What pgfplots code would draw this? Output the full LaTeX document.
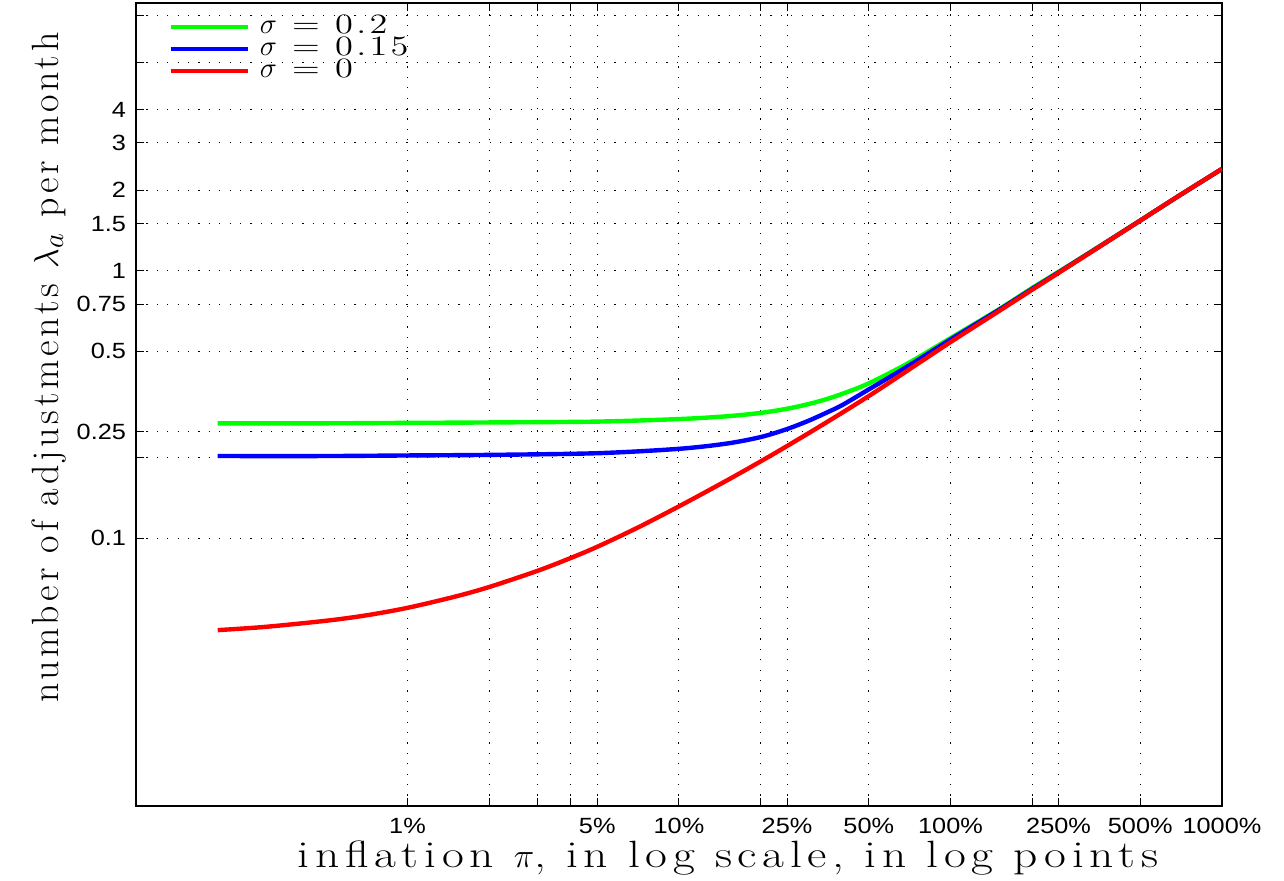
\documentclass[border=0pt]{standalone}
\usepackage{fontspec}
\usepackage{pgfplots}
\pgfplotsset{compat=1.18}
\newfontfamily\ticksans[FakeStretch=1.15]{Liberation Sans}
\newfontfamily\xlabfont[FakeStretch=1.25,LetterSpace=15]{lmroman17-regular.otf}
\newfontfamily\ylabfont[LetterSpace=10]{lmroman17-regular.otf}
\newfontfamily\legfont[FakeStretch=1.3,LetterSpace=12]{lmroman12-regular.otf}
\definecolor{cgreen}{rgb}{0,1,0}
\definecolor{cblue}{rgb}{0,0,1}
\definecolor{cred}{rgb}{1,0,0}
\begin{document}
\begin{tikzpicture}
\useasboundingbox (-68pt,-37.5pt) rectangle (574pt,403pt);
\begin{axis}[
  at={(0pt,0pt)}, anchor=south west,
  scale only axis, width=543pt, height=401.5pt,
  xmode=log, ymode=log,
  xmin=0.1, xmax=1000, ymin=0.01, ymax=10,
  xtick={1,2,3,4,5,10,20,25,50,100,200,250,500,1000},
  xticklabels={1\%,,,,5\%,10\%,,25\%,50\%,100\%,,250\%,500\%,1000\%},
  ytick={0.1,0.2,0.25,0.5,0.75,1,1.5,2,3,4,6,9},
  yticklabels={0.1,,0.25,0.5,0.75,1,1.5,2,3,4,,},
  xminorticks=false, yminorticks=false,
  tick label style={font=\ticksans\fontsize{11}{13}\selectfont},
  xticklabel style={yshift=-2.5pt},
  yticklabel style={xshift=-1.5pt},
  major tick length=4pt,
  tick style={black, line width=0.5pt},
  grid=major,
  major grid style={black, line width=0.5pt, dash pattern=on 0.6pt off 4.6pt},
  axis line style={line width=1pt},
  xlabel={inflation $\pi$, in log scale, in log points},
  ylabel={number of adjustments $\lambda_a$ per month},
  xlabel style={at={(axis description cs:0.545,-0.0772)}, anchor=base,
    font=\xlabfont\fontsize{19}{22}\selectfont},
  ylabel style={at={(axis description cs:-0.0718,0.546)}, anchor=base,
    font=\ylabfont\fontsize{19}{22}\selectfont},
  legend style={at={(axis description cs:0.0295,0.984)}, anchor=north west,
    draw=none, fill=none, inner sep=0pt, column sep=4pt,
    font=\legfont\fontsize{14}{14}\selectfont,
    nodes={inner sep=1pt, text height=7.5pt, text depth=1.5pt}},
  legend cell align=left,
  legend image code/.code={\draw[#1] (0pt,0pt) -- (38.5pt,0pt);},
]
\addplot[cgreen, line width=2.2pt, smooth, tension=0.5] coordinates {
(0.2,0.269) (0.5,0.269) (1,0.270) (2,0.271) (5,0.273) (10,0.279) (15,0.2858)
(20,0.2942) (25,0.3049) (30,0.3174) (35,0.3314) (40,0.3468) (50,0.3793) (70,0.4517)
(100,0.5597) (150,0.715) (200,0.862) (250,0.99) (350,1.225) (500,1.541) (700,1.915) (1000,2.40)};
\addlegendentry{$\sigma$ = 0.2}
\addplot[cblue, line width=2.2pt, smooth, tension=0.5] coordinates {
(0.2,0.203) (0.5,0.203) (1,0.204) (2,0.205) (5,0.208) (10,0.216) (15,0.226)
(20,0.239) (25,0.256) (30,0.275) (35,0.295) (40,0.315) (50,0.360) (70,0.441)
(100,0.553) (150,0.711) (200,0.855) (250,0.985) (350,1.222) (500,1.539) (700,1.915) (1000,2.40)};
\addlegendentry{$\sigma$ = 0.15}
\addplot[cred, line width=2.2pt, smooth, tension=0.5] coordinates {
(0.2,0.0454) (0.3,0.0467) (0.5,0.0492) (0.7,0.0515) (1,0.0550) (1.5,0.0606)
(2,0.0658) (3,0.0755) (4,0.0845) (5,0.0930) (7,0.1093) (10,0.1317) (15,0.1645)
(20,0.1939) (25,0.2212) (35,0.2715) (50,0.340) (70,0.4257) (100,0.541) (150,0.704)
(200,0.849) (250,0.981) (350,1.22) (500,1.539) (700,1.915) (1000,2.40)};
\addlegendentry{$\sigma$ = 0}
\end{axis}
\end{tikzpicture}
\end{document}
